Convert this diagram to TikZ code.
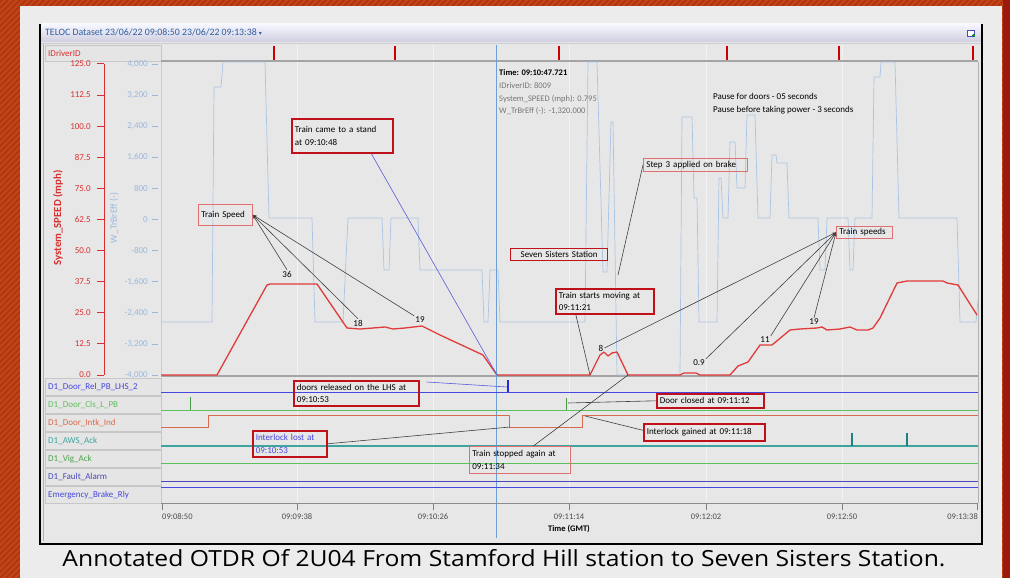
\documentclass[tikz,border=0pt]{standalone}
\usepackage{fontspec}
\setmainfont{Carlito}
\newfontfamily\capfont{Open Sans}
\newfontfamily\symfont{DejaVu Sans}
\usetikzlibrary{arrows.meta}
\definecolor{bgorange}{HTML}{C4451A}
\definecolor{stripe}{HTML}{B0360F}
\definecolor{darkred}{HTML}{9A1A10}
\definecolor{page}{HTML}{ECECEC}
\definecolor{plotbg}{HTML}{E7E7E7}
\definecolor{annred}{HTML}{C0101A}
\definecolor{annlight}{HTML}{E07070}
\definecolor{spdred}{HTML}{E03A3A}
\definecolor{brkblue}{HTML}{A9C4E4}
\definecolor{axblue}{HTML}{9AB8DC}
\definecolor{cursorc}{HTML}{6A9FD8}
\definecolor{sigblue}{HTML}{4646E0}
\definecolor{sigpulse}{HTML}{2A2AD0}
\definecolor{siggreen}{HTML}{5CC05C}
\definecolor{sigorange}{HTML}{D86A50}
\definecolor{sigteal}{HTML}{3FA3A0}
\definecolor{sigtealdk}{HTML}{1F8080}
\definecolor{sigdkblue}{HTML}{4848B8}
\definecolor{titleblue}{HTML}{2F5E9E}
\definecolor{gridc}{HTML}{F3F3F3}
\definecolor{framegray}{HTML}{A4A4A4}
\definecolor{tipgray}{HTML}{767676}
\definecolor{conblue}{HTML}{5A5AD8}
\definecolor{axred}{HTML}{D83030}
\tikzset{
  ann/.style={draw=annred, line width=1.6pt, anchor=north west, inner xsep=3pt, inner ysep=1pt,
    align=left, font=\fontsize{9}{12.5}\selectfont, text=black},
  annthin/.style={ann, draw=annlight, line width=0.8pt},
  num/.style={font=\fontsize{9}{10}\selectfont, inner sep=1pt, text=black},
  ptr/.style={draw=black!75, line width=0.6pt, -{Stealth[length=4pt,width=3pt]}},
  con/.style={draw=black!75, line width=0.6pt},
  bluecon/.style={draw=conblue, line width=0.6pt},
  siglbl/.style={draw=black!22, fill=black!10!white, anchor=north west, minimum width=116pt,
    minimum height=17pt, text width=110pt, align=left, inner xsep=3pt, inner ysep=0pt,
    font=\fontsize{9}{10}\selectfont},
  redtick/.style={font=\fontsize{9}{10}\selectfont, text=axred, anchor=east, inner sep=1pt},
  bluetick/.style={font=\fontsize{9}{10}\selectfont, text=axblue, anchor=east, inner sep=1pt},
  timelbl/.style={font=\fontsize{8.5}{10}\selectfont, text=black!70, inner sep=1pt},
  tip/.style={font=\fontsize{8.5}{10}\selectfont, text=tipgray, anchor=west, inner sep=0pt},
}
\begin{document}
\begin{tikzpicture}[x=1pt,y=-1pt]
\useasboundingbox (0,0) rectangle (1010,578);
% background stripes
\begin{scope}
\clip (0,0) rectangle (1010,578);
\fill[bgorange] (0,0) rectangle (1010,578);
\foreach \i in {-600,-594,...,1010} \draw[stripe, line width=2pt] (\i,578) -- ({\i+578},0);
\end{scope}
\fill[darkred] (1003,0) rectangle (1010,578);
\fill[page] (20,6) rectangle (1002,578);
% chart window
\fill[plotbg] (41,24) rectangle (981,543);
\shade[top color=white!92!blue!40, bottom color=blue!8!white!88!black] (41,24) rectangle (981,42);
\draw[blue!15!black!20] (41,43) -- (981,43);
\node[font=\fontsize{9.8}{11}\selectfont, text=titleblue, anchor=west, inner sep=0pt] (title) at (45,32)
  {TELOC Dataset 23/06/22 09:08:50 23/06/22 09:13:38 {\symfont\fontsize{6}{7}\selectfont ▾}};
\node[draw=blue!60!black!70, fill=white, minimum width=7pt, minimum height=6pt, inner sep=0pt] (icon) at (971,33) {};
\fill[green!60!black] (973.5,35.5) circle (1.6pt);
\draw[black, line width=2.5pt] (40,24) -- (40,544) -- (982,544) -- (982,24);
\draw[blue!30!white!80!gray, line width=0.6pt] (43,44) -- (43,541);
% grid
\foreach \gx in {297,433,569,706,842} \draw[gridc, line width=0.9pt] (\gx,45) -- (\gx,503);
% IDriverID row
\node[siglbl, minimum height=16pt, text=axred] (lid) at (45,45) {IDriverID};
\foreach \tx in {274,395,559,727,839,973} \draw[red!80!black, line width=1.8pt] (\tx,46) -- (\tx,60);
% plot frame
\draw[framegray, line width=2pt] (161,61.5) -- (978,61.5);
\draw[framegray, line width=2pt] (161,376) -- (978,376);
\draw[black!30, line width=0.6pt] (978,62) -- (978,503);
\draw[brkblue!80!white, line width=0.6pt] (161,62) -- (161,376);
% red axis
\draw[axred, line width=1pt] (104,64) -- (104,375);
\foreach \v/\lab [count=\k] in {125/125.0,112.5/112.5,100/100.0,87.5/87.5,75/75.0,62.5/62.5,50/50.0,37.5/37.5,25/25.0,12.5/12.5,0/0.0}{
  \draw[axred, line width=1pt] (97,{375-2.488*\v}) -- (104,{375-2.488*\v});
  \node[redtick] (rt\k) at (92,{375-2.488*\v}) {\lab};
}
\foreach \lab [count=\k from 0] in {{4,000},{3,200},{2,400},{1,600},800,0,-800,{-1,600},{-2,400},{-3,200},{-4,000}}{
  \draw[axblue, line width=0.8pt] (152,{64+31.1*\k}) -- (158,{64+31.1*\k});
  \node[bluetick] (bt\k) at (149,{64+31.1*\k}) {\lab};
}
\node[rotate=90, font=\bfseries\fontsize{10.8}{12}\selectfont, text=axred, inner sep=0pt] (ytitle1) at (58,218) {System\_SPEED (mph)};
\node[rotate=90, font=\fontsize{9.6}{11}\selectfont, text=axblue, inner sep=0pt] (ytitle2) at (114,218) {W\_TrBrEff (-)};
% brake effort trace
\draw[brkblue, line width=0.7pt] (161,322) -- (212,322) -- (214,87) -- (221,87) -- (223,62) -- (265,62) -- (269,218) -- (312,218) -- (315,322) -- (343,322) -- (348,218) -- (382,218) -- (384,270) -- (389,270) -- (391,218) -- (418,218) -- (420,270) -- (482,270) -- (484,322) -- (488,322) -- (490,270) -- (498,270) -- (500,322) -- (585,322) -- (588,62) -- (597,62) -- (603,272) -- (607,272) -- (611,122) -- (613,122) -- (617,375) -- (680,375) -- (682,117) -- (692,117) -- (694,198) -- (697,198) -- (699,322) -- (717,322) -- (719,178) -- (721,178) -- (723,218) -- (728,218) -- (730,142) -- (735,142) -- (737,188) -- (745,188) -- (747,115) -- (755,115) -- (758,218) -- (770,218) -- (772,155) -- (776,155) -- (777,163) -- (787,163) -- (789,218) -- (818,218) -- (820,270) -- (825,270) -- (827,218) -- (848,218) -- (850,270) -- (853,270) -- (855,218) -- (872,218) -- (874,77) -- (880,77) -- (881,62) -- (895,62) -- (899,218) -- (957,218) -- (960,322) -- (976,322) -- (978,300);
% speed trace
\draw[spdred, line width=1.3pt, line join=round] (161,375) -- (217,375) -- (267,285) -- (270,284) -- (317,284) -- (347,328) -- (360,329) -- (373,328) -- (385,327) -- (393,329) -- (405,328) -- (422,326) -- (440,335) -- (483,355) -- (497,375) -- (590,375) -- (600,355) -- (604,352) -- (608,356) -- (612,353) -- (617,352) -- (628,375) -- (680,375) -- (684,373) -- (696,373) -- (700,375) -- (730,375) -- (738,366) -- (748,362) -- (760,345) -- (772,345) -- (790,330) -- (800,329) -- (817,328) -- (822,327) -- (827,330) -- (840,329) -- (850,327) -- (857,330) -- (868,330) -- (873,328) -- (880,318) -- (897,283) -- (907,281) -- (943,281) -- (947,283) -- (958,285) -- (977,315);
% cursor
\draw[cursorc, line width=0.8pt] (496,45) -- (496,538);
\node[tip, text=black, font=\bfseries\fontsize{8.5}{10}\selectfont] (tip1) at (499,73) {Time: 09:10:47.721};
\node[tip] (tip2) at (499,86) {IDriverID: 8009};
\node[tip] (tip3) at (499,99) {System\_SPEED (mph): 0.795};
\node[tip] (tip4) at (499,111) {W\_TrBrEff (-): -1,320.000};
\node[font=\fontsize{9}{12.7}\selectfont, anchor=north west, align=left, inner sep=0pt] (pause) at (713,93)
  {Pause for doors - 05 seconds\\Pause before taking power - 3 seconds};
% signal rows
\node[siglbl, text=sigblue] (s1) at (45,378) {D1\_Door\_Rel\_PB\_LHS\_2};
\node[siglbl, text=siggreen] (s2) at (45,396) {D1\_Door\_Cls\_L\_PB};
\node[siglbl, text=sigorange] (s3) at (45,414) {D1\_Door\_Intk\_Ind};
\node[siglbl, text=sigteal] (s4) at (45,432) {D1\_AWS\_Ack};
\node[siglbl, text=siggreen!85!black] (s5) at (45,450) {D1\_Vig\_Ack};
\node[siglbl, text=sigdkblue] (s6) at (45,468) {D1\_Fault\_Alarm};
\node[siglbl, text=sigblue] (s7) at (45,486) {Emergency\_Brake\_Rly};
\draw[sigblue, line width=0.9pt] (161,392) -- (978,392);
\draw[sigpulse, line width=1.6pt] (508,392) -- (508,380);
\draw[siggreen, line width=0.9pt] (161,410) -- (978,410);
\draw[siggreen!80!black, line width=1pt] (190,410) -- (190,397);
\draw[siggreen!80!black, line width=1pt] (566,410) -- (566,398);
\draw[sigorange, line width=0.9pt] (161,427) -- (208,427) -- (208,415) -- (509,415) -- (509,427) -- (582,427) -- (582,415) -- (978,415);
\draw[sigteal, line width=1.1pt] (161,446) -- (978,446);
\draw[sigtealdk, line width=1.3pt] (852,446) -- (852,433);
\draw[sigtealdk, line width=1.3pt] (907,446) -- (907,433);
\draw[siggreen, line width=0.9pt] (161,463) -- (978,463);
\draw[sigdkblue, line width=1pt] (161,481) -- (978,481);
\draw[sigblue, line width=1pt] (161,487) -- (978,487);
% time axis
\draw[black!45, line width=0.9pt] (161,503) -- (978,503);
\foreach \gx in {162,297,433,569,706,842,977} \draw[black!50, line width=0.9pt] (\gx,503) -- (\gx,510);
\node[timelbl, anchor=west] (t1) at (161,517) {09:08:50};
\node[timelbl] (t2) at (297,517) {09:09:38};
\node[timelbl] (t3) at (433,517) {09:10:26};
\node[timelbl] (t4) at (569,517) {09:11:14};
\node[timelbl] (t5) at (706,517) {09:12:02};
\node[timelbl] (t6) at (842,517) {09:12:50};
\node[timelbl, anchor=east] (t7) at (979,517) {09:13:38};
\node[font=\bfseries\fontsize{8.5}{10}\selectfont, inner sep=0pt] (tgmt) at (569,529) {Time (GMT)};
% annotations
\node[ann, minimum width=101pt, minimum height=34pt, text width=95pt] (stand) at (291,118) {Train came to a stand\\at 09:10:48};
\node[annthin, minimum width=54pt, minimum height=21pt, text width=48pt] (tspeed) at (198,204) {Train Speed};
\node[ann, line width=1.3pt, minimum width=97pt, minimum height=12pt, text width=91pt, align=center, inner ysep=0pt] (seven) at (510,248) {Seven Sisters Station};
\node[annthin, minimum width=104pt, minimum height=13pt, text width=98pt, inner ysep=0pt] (step3) at (643,158) {Step 3 applied on brake};
\node[ann, minimum width=98pt, minimum height=25pt, text width=92pt] (moving) at (555,288) {Train starts moving at\\09:11:21};
\node[annthin, minimum width=56pt, minimum height=12pt, text width=50pt, inner ysep=0pt] (tspeeds) at (836,226) {Train speeds};
\node[ann, minimum width=125pt, minimum height=25pt, text width=119pt] (released) at (293,380) {doors released on the LHS at\\09:10:53};
\node[ann, minimum width=107pt, minimum height=14pt, text width=101pt, inner ysep=0pt] (closed) at (656,393) {Door closed at 09:11:12};
\node[ann, minimum width=121pt, minimum height=17pt, text width=115pt, inner ysep=0pt] (gained) at (643,423) {Interlock gained at 09:11:18};
\node[ann, minimum width=74pt, minimum height=26pt, text width=68pt, text=sigblue] (lost) at (252,430) {Interlock lost at\\09:10:53};
\node[annthin, minimum width=101pt, minimum height=27pt, text width=95pt] (stopped) at (469,446) {Train stopped again at\\09:11:34};
% numbers
\node[num] (n36) at (287,274) {36};
\node[num] (n18) at (358,323) {18};
\node[num] (n19a) at (420,320) {19};
\node[num] (n8) at (601,348) {8};
\node[num] (n09) at (699,363) {0.9};
\node[num] (n11) at (765,340) {11};
\node[num] (n19b) at (814,322) {19};
% connector end points
\coordinate (stopA) at (497,375);
\coordinate (brakept) at (618,275);
\coordinate (movept) at (590,375);
\coordinate (relpt) at (507,387);
\coordinate (clspt) at (568,403);
\coordinate (gainpt) at (585,416);
\coordinate (lostpt) at (510,427);
\coordinate (stoppt) at (628,375);
% connectors
\draw[bluecon] ([xshift=29pt]stand.south) -- (stopA);
\draw[ptr] (n36.north) -- (tspeed.east);
\draw[ptr] (n18.north) -- (tspeed.east);
\draw[ptr] (n19a.north west) -- (tspeed.east);
\draw[con] (step3.west) -- (brakept);
\draw[con] ([xshift=-29pt]moving.south) -- (movept);
\draw[ptr] (n8.east) -- (tspeeds.west);
\draw[ptr] (n09.north east) -- (tspeeds.west);
\draw[ptr] (n11.north east) -- (tspeeds.west);
\draw[ptr] (n19b.north) -- (tspeeds.west);
\draw[bluecon] ([xshift=7pt,yshift=-2pt]released.north east) -- (relpt);
\draw[con] (closed.west) -- (clspt);
\draw[con] ([yshift=2pt]gained.west) -- (gainpt);
\draw[con] (lost.east) -- (lostpt);
\draw[con] ([xshift=13.5pt]stopped.north) -- (stoppt);
% caption
\node[text=black, inner sep=0pt] (caption) at (504,558)
  {\resizebox{883pt}{17pt}{\capfont Annotated OTDR Of 2U04 From Stamford Hill station to Seven Sisters Station.}};
\end{tikzpicture}
\end{document}
